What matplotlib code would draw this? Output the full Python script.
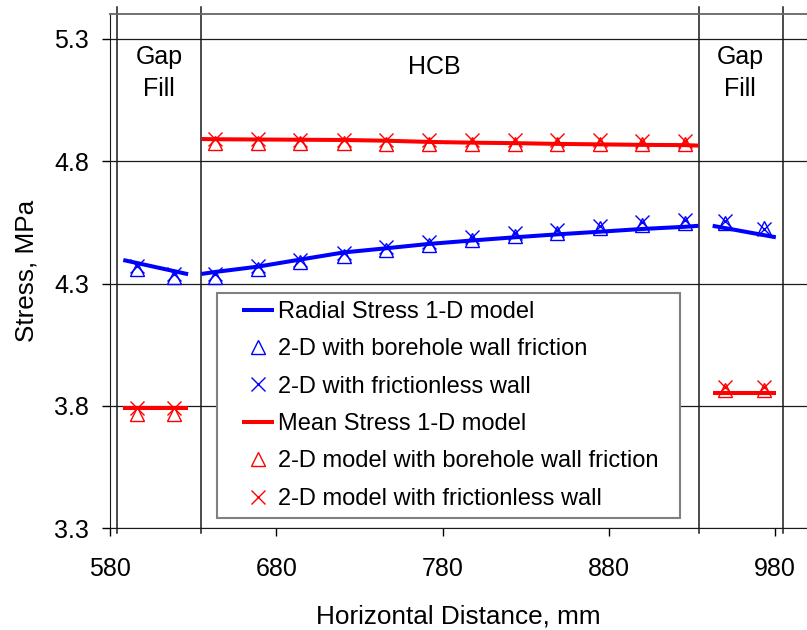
import matplotlib
matplotlib.use('Agg')
import matplotlib.pyplot as plt
from matplotlib.ticker import FormatStrFormatter
from matplotlib.lines import Line2D
from matplotlib.legend_handler import HandlerLine2D

plt.rcParams['font.family'] = ['Liberation Sans', 'DejaVu Sans']

# ---------------- data ----------------
# 2-D model sample positions (mm)
gap_left_x = [596, 618.5]
hcb_x = [643, 669, 694.5, 720.5, 746, 772, 798, 823.5, 849, 875, 900, 926]
gap_right_x = [950, 973.5]

# 1-D model curve positions (mm)
line_left_x = [588, 627]
line_hcb_x = [635, 643, 669, 694.5, 720.5, 746, 772, 798, 823.5, 849, 875, 900, 926, 934]
line_right_x = [942.5, 980.5]

# Radial stress 1-D model (MPa)
radial_1d_left = [4.396, 4.338]
radial_1d_hcb = [4.339, 4.347, 4.369, 4.398, 4.427, 4.444, 4.462, 4.476,
                 4.489, 4.501, 4.512, 4.523, 4.532, 4.536]
radial_1d_right = [4.536, 4.489]

# Radial 2-D with borehole wall friction
radial_fric_left = [4.361, 4.325]
radial_fric_hcb = [4.325, 4.361, 4.386, 4.411, 4.436, 4.457, 4.477, 4.493,
                   4.507, 4.525, 4.538, 4.548]
radial_fric_right = [4.548, 4.528]

# Radial 2-D frictionless wall
radial_nofric_left = [4.373, 4.337]
radial_nofric_hcb = [4.337, 4.373, 4.398, 4.423, 4.448, 4.469, 4.489, 4.505,
                     4.519, 4.537, 4.550, 4.560]
radial_nofric_right = [4.555, 4.524]

# Mean stress 1-D model
mean_1d_left = [3.792, 3.792]
mean_1d_hcb = [4.891, 4.890, 4.889, 4.888, 4.887, 4.884, 4.879, 4.876,
               4.874, 4.871, 4.869, 4.867, 4.866, 4.864]
mean_1d_right = [3.851, 3.851]

# Mean 2-D with borehole wall friction
mean_fric_left = [3.768, 3.768]
mean_fric_hcb = [4.874, 4.874, 4.873, 4.873, 4.872, 4.872, 4.871, 4.871,
                 4.870, 4.870, 4.869, 4.869]
mean_fric_right = [3.866, 3.866]

# Mean 2-D frictionless wall
mean_nofric_left = [3.790, 3.790]
mean_nofric_hcb = [4.889, 4.889, 4.888, 4.888, 4.887, 4.887, 4.886, 4.886,
                   4.885, 4.885, 4.884, 4.884]
mean_nofric_right = [3.876, 3.876]

# region boundaries (mm) and labels
region_bounds = [584.2, 634.7, 934.1, 984.6]
region_labels = ['Gap\nFill', 'HCB', 'Gap\nFill']
region_label_x = [609.5, 775, 959]
region_label_y = [5.160, 5.185, 5.160]

x_ticks = [580, 680, 780, 880, 980]
y_ticks = [3.3, 3.8, 4.3, 4.8, 5.3]

labels = ['Radial Stress 1-D model',
          '2-D with borehole wall friction',
          '2-D with frictionless wall',
          'Mean Stress 1-D model',
          '2-D model with borehole wall friction',
          '2-D model with frictionless wall']

# ---------------- figure ----------------
BLUE = '#0000FF'
RED = '#FF0000'

fig = plt.figure(figsize=(8.07, 6.30), dpi=100)
ax = fig.add_axes([110 / 807, 102 / 630, 697 / 807, 514 / 630])
ax.set_xlim(580, 580 + 697 / 1.6625)
ax.set_ylim(3.3, 3.3 + 514 / 244.5)

lw_line = 2.9
ms = 9.5
mew = 1.0

segments = [
    (line_left_x, gap_left_x, radial_1d_left, radial_fric_left, radial_nofric_left,
     mean_1d_left, mean_fric_left, mean_nofric_left),
    (line_hcb_x, hcb_x, radial_1d_hcb, radial_fric_hcb, radial_nofric_hcb,
     mean_1d_hcb, mean_fric_hcb, mean_nofric_hcb),
    (line_right_x, gap_right_x, radial_1d_right, radial_fric_right, radial_nofric_right,
     mean_1d_right, mean_fric_right, mean_nofric_right),
]

handles = None
for (lx, px, r1, rf, rn, m1, mf, mn) in segments:
    h_rf, = ax.plot(px, rf, linestyle='none', marker='^', ms=ms, mfc='none',
                    mec=BLUE, mew=mew, zorder=3)
    h_r1, = ax.plot(lx, r1, color=BLUE, lw=lw_line, zorder=4,
                    solid_capstyle='butt')
    h_rn, = ax.plot(px, rn, linestyle='none', marker='x', ms=ms, mec=BLUE,
                    mew=mew, zorder=5)
    h_mf, = ax.plot(px, mf, linestyle='none', marker='^', ms=ms, mfc='none',
                    mec=RED, mew=mew, zorder=3)
    h_m1, = ax.plot(lx, m1, color=RED, lw=lw_line, zorder=4,
                    solid_capstyle='butt')
    h_mn, = ax.plot(px, mn, linestyle='none', marker='x', ms=ms, mec=RED,
                    mew=mew, zorder=5)
    if handles is None:
        handles = [h_r1, h_rf, h_rn, h_m1, h_mf, h_mn]

# region boundary lines (extend slightly beyond the frame)
for xb in region_bounds:
    ax.plot([xb, xb], [3.28, 5.432], color='#1a1a1a', lw=1.1, clip_on=False,
            zorder=2)

for t, xx, yy in zip(region_labels, region_label_x, region_label_y):
    ax.text(xx, yy, t, ha='center', va='center', fontsize=18,
            linespacing=1.4, color='black')

# axes styling
ax.set_xticks(x_ticks)
ax.set_yticks(y_ticks)
ax.yaxis.set_major_formatter(FormatStrFormatter('%.1f'))
ax.tick_params(axis='both', direction='out', length=5.8, width=1.0,
               labelsize=18, colors='black')
ax.tick_params(axis='x', pad=15)
ax.tick_params(axis='y', pad=9.5)
ax.yaxis.grid(True, color='#1a1a1a', lw=0.9)
ax.set_axisbelow(True)
ax.spines['right'].set_visible(False)
ax.spines['top'].set_color('#666666')
ax.spines['top'].set_linewidth(1.3)
ax.spines['left'].set_color('#1a1a1a')
ax.spines['bottom'].set_color('#1a1a1a')

ax.set_ylabel('Stress, MPa', fontsize=18.8)
ax.yaxis.set_label_coords(-0.103, 0.5)
ax.set_xlabel('Horizontal Distance, mm', fontsize=18.8)
ax.xaxis.set_label_coords(0.5, -0.148)

leg = ax.legend(handles, labels, loc='upper left',
                bbox_to_anchor=(217 / 807, (630 - 517) / 630, 463 / 807, 224 / 630),
                bbox_transform=fig.transFigure, borderaxespad=0, mode='expand',
                fontsize=17, frameon=True, fancybox=False, framealpha=1,
                edgecolor='#808080', handlelength=2.06, handletextpad=0.17,
                labelspacing=0.65, borderpad=0.34,
                handler_map={Line2D: HandlerLine2D(xpad=0.72)})
leg.get_frame().set_linewidth(1.5)
leg.set_zorder(10)

fig.savefig('out.png', dpi=100)
